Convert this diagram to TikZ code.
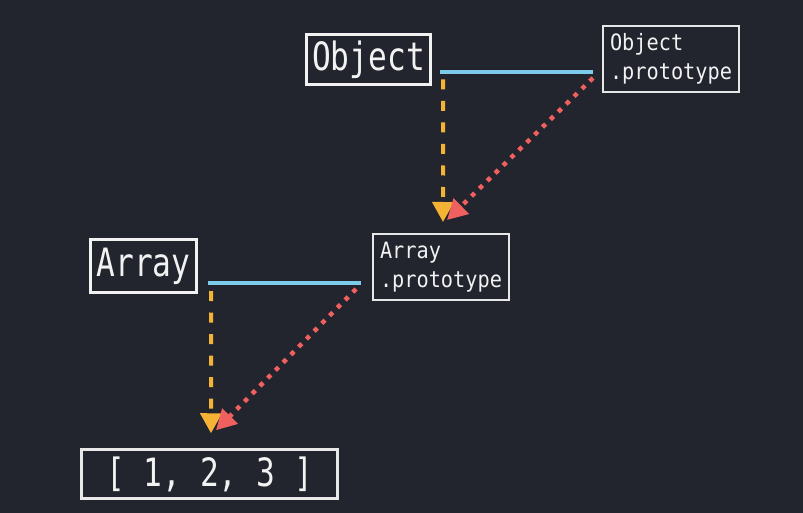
\documentclass[tikz,border=0pt]{standalone}
\usepackage{fontspec}
\usetikzlibrary{arrows.meta,calc}
\newfontfamily\bigmono[FakeStretch=0.8]{DejaVu Sans Mono}
\newfontfamily\smallmono[FakeStretch=0.9]{DejaVu Sans Mono}
\definecolor{bgc}{HTML}{22252E}
\definecolor{skyc}{HTML}{7CCBE9}
\definecolor{orc}{HTML}{F5B335}
\definecolor{redc}{HTML}{F0605F}
\definecolor{txtc}{HTML}{F2F2F2}
\tikzset{
  bigbox/.style={draw=txtc, text=txtc, line width=3.2pt, inner sep=0pt, font=\bigmono\fontsize{39}{42}\selectfont},
  protobox/.style={draw=txtc!90!gray, text=txtc, line width=2pt, inner sep=0pt, align=left, minimum width=136pt, minimum height=66pt, font=\smallmono\fontsize{22.5}{29}\selectfont},
  arrbox/.style={draw=txtc!92!gray, text=txtc, line width=2.5pt, inner sep=0pt, font=\bigmono\fontsize{39}{42}\selectfont},
  skyline/.style={draw=skyc, line width=4pt},
  orline/.style={draw=orc, line width=4pt, dash pattern=on 10pt off 11.5pt, -{Triangle[width=21pt,length=20pt]}},
  redline/.style={draw=redc, line width=4.5pt, dash pattern=on 4.5pt off 6.5pt, -{Triangle[width=21pt,length=20pt]}}
}
\begin{document}
\begin{tikzpicture}[x=1pt,y=-1pt]
\fill[bgc] (0,0) rectangle (803,513);
\useasboundingbox (0,0) rectangle (803,513);
\node[bigbox, minimum width=124pt, minimum height=50pt] (obj) at (368.5,59.5) {Object};
\node[protobox] (objp) at (671,59) {Object\\.prototype};
\node[bigbox, minimum width=106pt, minimum height=53pt] (arr) at (143.5,266) {Array};
\node[protobox] (arrp) at (441,267) {Array\\.prototype};
\node[arrbox, minimum width=256pt, minimum height=49pt] (lit) at (209.5,474) {[ 1, 2, 3 ]};
% Object level
\draw[skyline] ($(obj.east)+(8,12.5)$) -- ($(objp.west)+(-9,13)$);
\draw[orline] ($(obj.east)+(11,20)$) -- ($(arrp.north)+(2,-11)$);
\draw[redline] ($(objp.west)+(-9,19)$) -- ($(arrp.north)+(6,-13)$);
% Array level
\draw[skyline] ($(arr.east)+(10,17)$) -- ($(arrp.west)+(-11,16)$);
\draw[orline] ($(arr.east)+(13,25)$) -- ($(lit.north)+(1.5,-15)$);
\draw[redline] ($(arrp.west)+(-16,22)$) -- ($(lit.north)+(6.5,-18)$);
\end{tikzpicture}
\end{document}
